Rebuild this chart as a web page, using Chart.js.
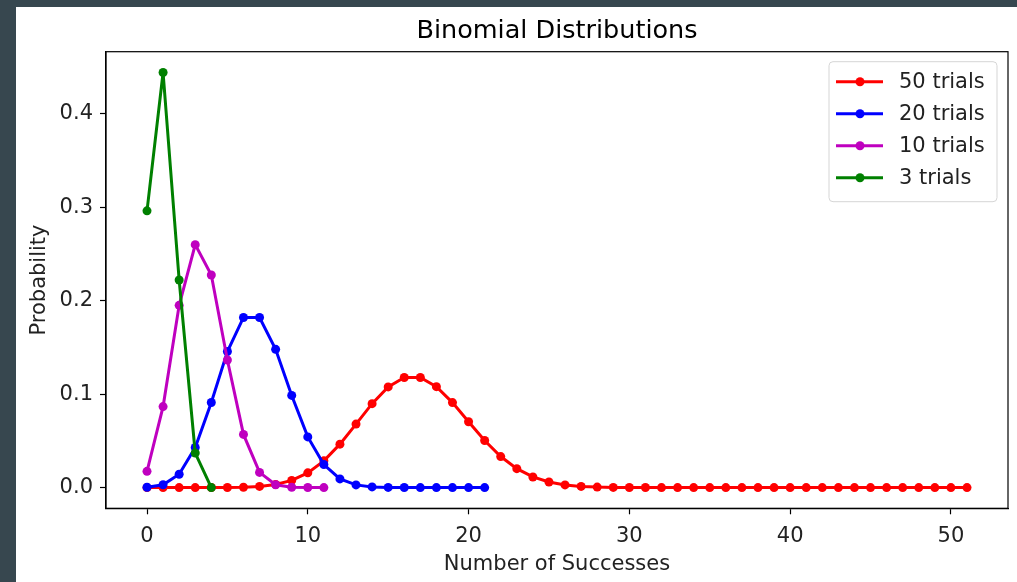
<!DOCTYPE html>
<html>
<head>
<meta charset="utf-8">
<script src="https://cdn.jsdelivr.net/npm/chart.js@4.4.1/dist/chart.umd.min.js"></script>
<style>
  html, body { margin: 0; padding: 0; }
  body { background: #37474f; width: 1017px; height: 582px; overflow: hidden; position: relative; }
  #frame { position: absolute; left: 16px; top: 7px; width: 1001px; height: 575px; background: #fff; }
</style>
</head>
<body>
<div id="frame"><canvas id="myChart"></canvas></div>
<script>
// Probability of k successes, k = 0, 1, 2, ... for each number of trials
const seriesLabels = ['50 trials', '20 trials', '10 trials', '3 trials'];
const seriesColors = ['#ff0000', '#0000ff', '#bf00bf', '#008000'];

const prob50 = [
    0.0000000016, 0.00000004, 0.00000048, 0.0000038, 0.0000226, 0.000104, 0.00039, 0.00122,
    0.00329, 0.00768, 0.01574, 0.02862, 0.04650, 0.06797, 0.08981, 0.10778,
    0.11788, 0.11788, 0.10806, 0.09100, 0.07052, 0.05037, 0.03320, 0.02021,
    0.01137, 0.00591, 0.00284, 0.00126, 0.00052, 0.00020, 0.000069, 0.000022,
    0.0000066, 0.0000018, 0.00000045, 0.0000001, 0, 0, 0, 0,
    0, 0, 0, 0, 0, 0, 0, 0, 0, 0, 0, 0
];
const prob20 = [
    0.00030, 0.00301, 0.01428, 0.04285, 0.09106, 0.14570, 0.18212, 0.18212,
    0.14797, 0.09865, 0.05426, 0.02466, 0.00925, 0.00285, 0.00071, 0.00014,
    0.000022, 0.0000026, 0.0000002, 0, 0, 0
];
const prob10 = [
    0.01734, 0.08671, 0.19509, 0.26012, 0.22761, 0.13656, 0.05690, 0.01626,
    0.00305, 0.00034, 0.00002, 0
];
const prob3 = [0.2963, 0.4444, 0.2222, 0.0370, 0];

const xTicks = [0, 10, 20, 30, 40, 50];
const yTicks = [0, 0.1, 0.2, 0.3, 0.4];

const FONT = 'DejaVu Sans';

function toPoints(values) {
    return values.map((p, k) => ({ x: k, y: p }));
}

const seriesValues = [prob50, prob20, prob10, prob3];

const datasets = seriesValues.map((values, i) => ({
    label: seriesLabels[i],
    data: toPoints(values),
    borderColor: seriesColors[i],
    backgroundColor: seriesColors[i],
    borderWidth: 3,
    pointRadius: 4.5,
    pointBorderWidth: 0,
    tension: 0,
    // later series sit on top of earlier ones
    order: seriesValues.length - i
}));

// frame on all four sides, title and a legend with line + dot samples
const decorations = {
    id: 'decorations',
    afterDraw(chart) {
        const { ctx, chartArea: a } = chart;
        ctx.save();
        ctx.strokeStyle = '#000';
        ctx.lineWidth = 1.2;
        ctx.strokeRect(a.left, a.top, a.right - a.left, a.bottom - a.top);

        ctx.fillStyle = '#000';
        ctx.font = '25.5px "' + FONT + '"';
        ctx.textAlign = 'center';
        ctx.textBaseline = 'alphabetic';
        ctx.fillText('Binomial Distributions', (a.left + a.right) / 2, 31);

        const bx = a.right - 179, by = a.top + 10, bw = 168, bh = 140;
        ctx.beginPath();
        ctx.roundRect(bx, by, bw, bh, 4);
        ctx.fillStyle = 'rgba(255,255,255,0.8)';
        ctx.fill();
        ctx.strokeStyle = '#d5d5d5';
        ctx.lineWidth = 1;
        ctx.stroke();

        ctx.font = '21px "' + FONT + '"';
        ctx.textAlign = 'left';
        ctx.textBaseline = 'middle';
        chart.data.datasets.forEach((ds, i) => {
            const y = by + 20 + i * 32;
            ctx.strokeStyle = ds.borderColor;
            ctx.lineWidth = 3;
            ctx.beginPath();
            ctx.moveTo(bx + 7, y);
            ctx.lineTo(bx + 54, y);
            ctx.stroke();
            ctx.fillStyle = ds.borderColor;
            ctx.beginPath();
            ctx.arc(bx + 31, y, 4.5, 0, Math.PI * 2);
            ctx.fill();
            ctx.fillStyle = '#222';
            ctx.fillText(ds.label, bx + 70, y + 1);
        });
        ctx.restore();
    }
};

const ctx = document.getElementById('myChart');

new Chart(ctx, {
    type: 'line',
    data: { datasets: datasets },
    plugins: [decorations],
    options: {
        responsive: true,
        maintainAspectRatio: false,
        animation: false,
        layout: { padding: { top: 44.7, right: 9, left: 0, bottom: 0 } },
        scales: {
            x: {
                type: 'linear',
                min: -2.55,
                max: 53.55,
                afterBuildTicks: scale => { scale.ticks = xTicks.map(v => ({ value: v })); },
                afterFit: scale => { scale.height = 73.7; },
                grid: { drawOnChartArea: false, drawTicks: true, tickLength: 6, tickWidth: 1.2, color: '#000' },
                border: { display: true, color: '#000', width: 1.2 },
                ticks: {
                    color: '#222',
                    padding: 10,
                    maxRotation: 0,
                    font: { family: FONT, size: 21 }
                },
                title: {
                    display: true,
                    text: 'Number of Successes',
                    color: '#222',
                    font: { family: FONT, size: 21 },
                    padding: { top: 0, bottom: 5 }
                }
            },
            y: {
                type: 'linear',
                min: -0.0222,
                max: 0.4667,
                afterBuildTicks: scale => { scale.ticks = yTicks.map(v => ({ value: v })); },
                afterFit: scale => { scale.width = 90; },
                grid: { drawOnChartArea: false, drawTicks: true, tickLength: 6, tickWidth: 1.2, color: '#000' },
                border: { display: true, color: '#000', width: 1.2 },
                ticks: {
                    color: '#222',
                    padding: 7,
                    font: { family: FONT, size: 21 },
                    callback: value => value.toFixed(1)
                },
                title: {
                    display: true,
                    text: 'Probability',
                    color: '#222',
                    font: { family: FONT, size: 21 },
                    padding: { top: 11, bottom: 0 }
                }
            }
        },
        plugins: {
            legend: { display: false },
            tooltip: { enabled: false }
        }
    }
});
</script>
</body>
</html>
